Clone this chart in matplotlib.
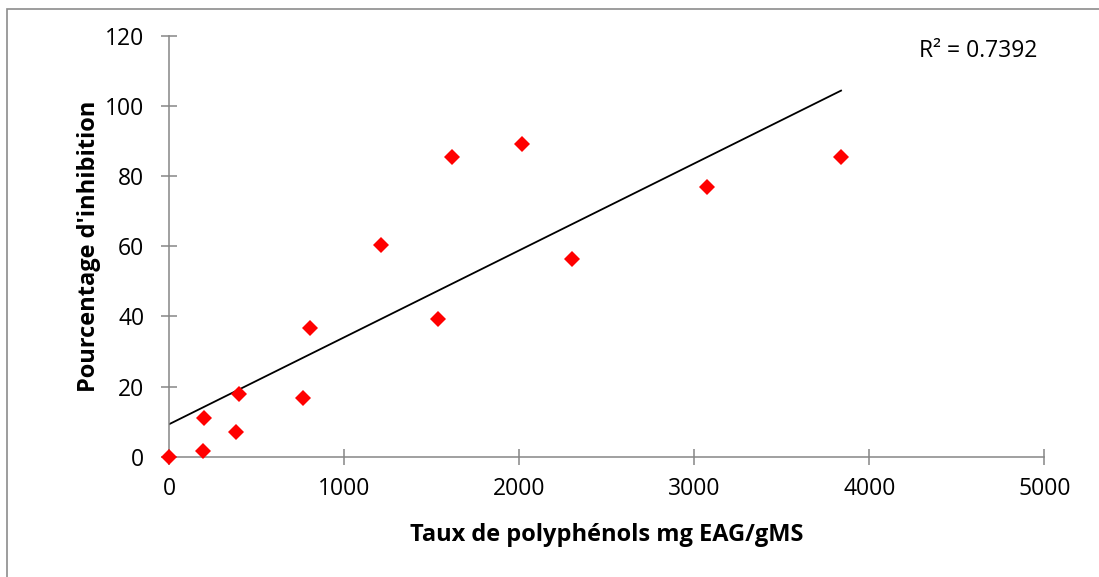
import numpy as np
import matplotlib.pyplot as plt
from matplotlib.patches import Rectangle

# Values
polyphenols = np.array([0, 192, 200, 383, 402, 767, 807, 1211, 1535, 1615, 2018, 2304, 3071, 3839])
inhibition = np.array([0, 1.7, 11.0, 7.0, 17.8, 16.7, 36.7, 60.5, 39.3, 85.5, 89.1, 56.5, 77.0, 85.5])
r2_label = "R² = 0.7392"

x_ticks = [0, 1000, 2000, 3000, 4000, 5000]
y_ticks = [0, 20, 40, 60, 80, 100, 120]

plt.rcParams['font.family'] = ['Open Sans', 'DejaVu Sans']
axis_grey = '#868686'

fig = plt.figure(figsize=(10.99, 5.77), dpi=100)
ax = fig.add_axes([0.1538, 0.2085, 0.7964, 0.7291])

# Linear trendline (least squares) over the data range
p = np.polyfit(polyphenols, inhibition, 1)
x_fit = np.array([0, polyphenols.max()])
ax.plot(x_fit, np.polyval(p, x_fit), color='black', linewidth=1.3, zorder=2)

ax.plot(polyphenols, inhibition, linestyle='none', marker='D', markersize=7.8,
        color='#ff0000', markeredgewidth=0, zorder=3, clip_on=False)

ax.set_xlim(0, 5000)
ax.set_ylim(0, 120)
ax.set_xticks(x_ticks)
ax.set_yticks(y_ticks)

for side in ['top', 'right']:
    ax.spines[side].set_visible(False)
for side in ['left', 'bottom']:
    ax.spines[side].set_color(axis_grey)
    ax.spines[side].set_linewidth(1.1)

ax.tick_params(direction='inout', length=11.5, width=1.1, color=axis_grey,
               labelsize=16.5, labelcolor='black')
ax.tick_params(axis='x', pad=9)
ax.tick_params(axis='y', pad=12)

ax.set_xlabel("Taux de polyphénols mg EAG/gMS", fontsize=17, fontweight='bold', labelpad=16)
ax.set_ylabel("Pourcentage d'inhibition", fontsize=17, fontweight='bold', labelpad=3)

ax.text(0.857, 0.965, r2_label, transform=ax.transAxes, fontsize=16.5,
        ha='left', va='center')

# Chart area border (light grey frame)
fig.patches.append(Rectangle((7 / 1099, -0.05), 1.2, 1 - 9 / 577 + 0.05,
                             transform=fig.transFigure, fill=False,
                             edgecolor='#8c8c8c', linewidth=1.2))

fig.savefig('out.png', dpi=100)
